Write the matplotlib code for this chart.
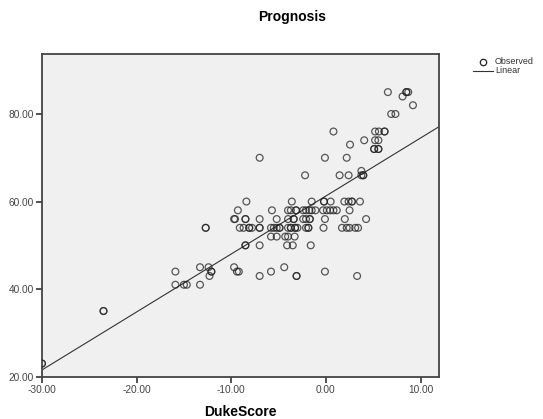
import numpy as np
import matplotlib
matplotlib.use('Agg')
import matplotlib.pyplot as plt
from matplotlib.lines import Line2D

plt.rcParams['font.family'] = ['Liberation Sans', 'DejaVu Sans']

# ------------------------------------------------------------
#  Data (DukeScore vs Prognosis)
# ------------------------------------------------------------
duke_score = [
    -30.0, -30.0, -23.5, -23.5,
    -15.9, -15.9, -15.0, -14.7, -13.3, -13.3, -12.4, -12.3, -12.1, -12.1,
    -12.7, -12.7,
    -9.7, -9.4, -9.2, -9.7, -9.3,
    -8.5, -8.5, -7.0, -7.0, -5.8, -4.4, -3.1, -3.1, -0.1, 3.3,
    -4.1, -3.5, -1.6,
    -5.8, -5.2, -4.3, -4.0, -3.3,
    # row 54
    -9.1, -8.7, -8.1, -8.1, -7.8, -7.0, -7.0, -5.8, -5.5, -5.2, -4.9, -4.9,
    -4.0, -3.7, -3.7, -3.25, -3.25, -3.0, -2.1, -1.85, -1.85, -0.25,
    1.7, 2.2, 2.5, 3.1, 3.4,
    # row 56
    -9.6, -8.5, -8.5, -7.0, -5.2, -4.0, -3.4, -3.4, -2.4, -2.1, -1.7, -1.7,
    -0.1, 2.0, 4.25,
    # row 58
    -5.7, -4.0, -3.7, -3.15, -3.15, -2.4, -2.1, -1.75, -1.5, -1.1,
    -0.3, 0.1, 0.45, 0.8, 1.15, 2.5,
    # row 60
    -8.4, -3.6, -1.5, -0.2, -0.2, 0.5, 1.95, 2.4, 2.75, 2.75, 3.6,
    # upper points
    -2.2, 1.45, 2.4, 3.75, 3.95, 3.95, 3.75,
    -7.0, -0.1, 2.2, 2.55,
    4.05, 5.2, 5.55,
    5.1, 5.1, 5.55, 5.55,
    0.8, 5.2, 5.6, 6.2, 6.2,
    6.9, 7.35,
    6.55, 8.1, 8.5, 8.5, 8.7, 9.2,
]
prognosis = [
    23, 23, 35, 35,
    44, 41, 41, 41, 41, 45, 45, 43, 44, 44,
    54, 54,
    45, 44, 44, 56, 58,
    50, 50, 50, 43, 44, 45, 43, 43, 44, 43,
    50, 50, 50,
    52, 52, 52, 52, 52,
    54, 54, 54, 54, 54, 54, 54, 54, 54, 54, 54, 54,
    54, 54, 54, 54, 54, 54, 54, 54, 54, 54,
    54, 54, 54, 54, 54,
    56, 56, 56, 56, 56, 56, 56, 56, 56, 56, 56, 56,
    56, 56, 56,
    58, 58, 58, 58, 58, 58, 58, 58, 58, 58,
    58, 58, 58, 58, 58, 58,
    60, 60, 60, 60, 60, 60, 60, 60, 60, 60, 60,
    66, 66, 66, 66, 66, 66, 67,
    70, 70, 70, 73,
    74, 74, 74,
    72, 72, 72, 72,
    76, 76, 76, 76, 76,
    80, 80,
    85, 84, 85, 85, 85, 82,
]

x_ticks = [-30, -20, -10, 0, 10]
y_ticks = [20, 40, 60, 80]

x = np.array(duke_score)
y = np.array(prognosis)
slope, intercept = np.polyfit(x, y, 1)

# ------------------------------------------------------------
#  Plot
# ------------------------------------------------------------
fig = plt.figure(figsize=(5.43, 4.19), dpi=100)
ax = fig.add_axes([0.0773, 0.1010, 0.7320, 0.7701])
ax.set_facecolor('#f0f0f0')

ax.scatter(x, y, s=24, facecolors='none', edgecolors='#222222',
           linewidths=0.9, alpha=0.75, zorder=3)

xlim = (-30, 12.0)
xs = np.array(xlim)
ax.plot(xs, slope * xs + intercept, color='#333333', linewidth=0.8, zorder=2)

ax.set_xlim(*xlim)
ax.set_ylim(20, 93.7)
ax.set_xticks(x_ticks)
ax.set_yticks(y_ticks)
ax.set_xticklabels([f'{v:.2f}' for v in x_ticks])
ax.set_yticklabels([f'{v:.2f}' for v in y_ticks])
ax.tick_params(direction='out', length=4, width=1.2, color='#333333',
               labelsize=7.3, labelcolor='#444444', pad=2)

for s in ax.spines.values():
    s.set_color('#444444')
    s.set_linewidth(1.3)

ax.set_xlabel('DukeScore', fontsize=10, fontweight='bold', labelpad=7)
fig.text(292 / 543, 1 - 17 / 419, 'Prognosis', fontsize=10,
         fontweight='bold', ha='center', va='center')

# legend (manual, outside at top right)
fig.add_artist(Line2D([483.3 / 543], [1 - 61.7 / 419], marker='o',
                      markersize=4.6, markerfacecolor='none',
                      markeredgecolor='#222222', markeredgewidth=0.9,
                      transform=fig.transFigure))
fig.add_artist(Line2D([473 / 543, 493 / 543], [1 - 70.7 / 419] * 2,
                      color='#333333', linewidth=0.8,
                      transform=fig.transFigure))
fig.text(495 / 543, 1 - 61.7 / 419, 'Observed', fontsize=6.5,
         color='#333333', va='center')
fig.text(495 / 543, 1 - 70.7 / 419, 'Linear', fontsize=6.5,
         color='#333333', va='center')

plt.savefig('out.png', dpi=100)
